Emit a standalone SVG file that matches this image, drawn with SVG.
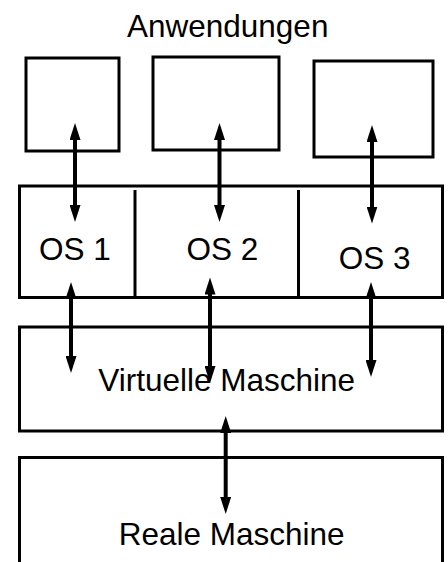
<svg xmlns="http://www.w3.org/2000/svg" width="448" height="562" viewBox="0 0 448 562">
<style>
.box{fill:#fff;stroke:#000;stroke-width:3}
.div{stroke:#000;stroke-width:3}
.lbl{font-family:"Liberation Sans",Arial,sans-serif;font-size:31.5px;fill:#000;text-anchor:middle}
.arr{stroke:#000;stroke-width:4;fill:none;marker-start:url(#ah);marker-end:url(#ah)}
</style>
<defs>
<marker id="ah" viewBox="0 0 17 11" refX="8" refY="5.5" markerWidth="17" markerHeight="11" markerUnits="userSpaceOnUse" orient="auto-start-reverse">
<path d="M0,0 L17,5.5 L0,11 z" fill="#000"/>
</marker>
</defs>
<rect width="448" height="562" fill="#fff"/>
<g id="title"><text class="lbl" x="227.7" y="36.7">Anwendungen</text></g>
<g id="app1"><rect class="box" x="26" y="58" width="93" height="93"/></g>
<g id="app2"><rect class="box" x="153" y="57" width="126" height="93"/></g>
<g id="app3"><rect class="box" x="314" y="61" width="119" height="96"/></g>
<g id="os">
<rect class="box" x="19.5" y="186" width="423" height="111.5"/>
<line class="div" x1="135" y1="190" x2="135" y2="298"/>
<line class="div" x1="298.5" y1="190" x2="298.5" y2="298"/>
</g>
<g id="os1"><text class="lbl" x="75" y="260">OS 1</text></g>
<g id="os2"><text class="lbl" x="222.5" y="260">OS 2</text></g>
<g id="os3"><text class="lbl" x="374.7" y="269.3">OS 3</text></g>
<g id="vm"><rect class="box" x="19.5" y="327" width="423" height="104"/><text class="lbl" x="226.7" y="390.7">Virtuelle Maschine</text></g>
<g id="real"><rect class="box" x="19.5" y="457.5" width="423" height="120"/><text class="lbl" x="231.7" y="545">Reale Maschine</text></g>
<g id="connectors">
<line class="arr" x1="75" y1="132" x2="75" y2="213"/>
<line class="arr" x1="219.5" y1="132" x2="219.5" y2="213"/>
<line class="arr" x1="372" y1="134" x2="372" y2="214.5"/>
<line class="arr" x1="71" y1="291" x2="71" y2="364"/>
<line class="arr" x1="210" y1="286.5" x2="210" y2="374"/>
<line class="arr" x1="371" y1="291" x2="371" y2="368"/>
<line class="arr" x1="225.7" y1="425" x2="225.7" y2="505"/>
</g>
</svg>
